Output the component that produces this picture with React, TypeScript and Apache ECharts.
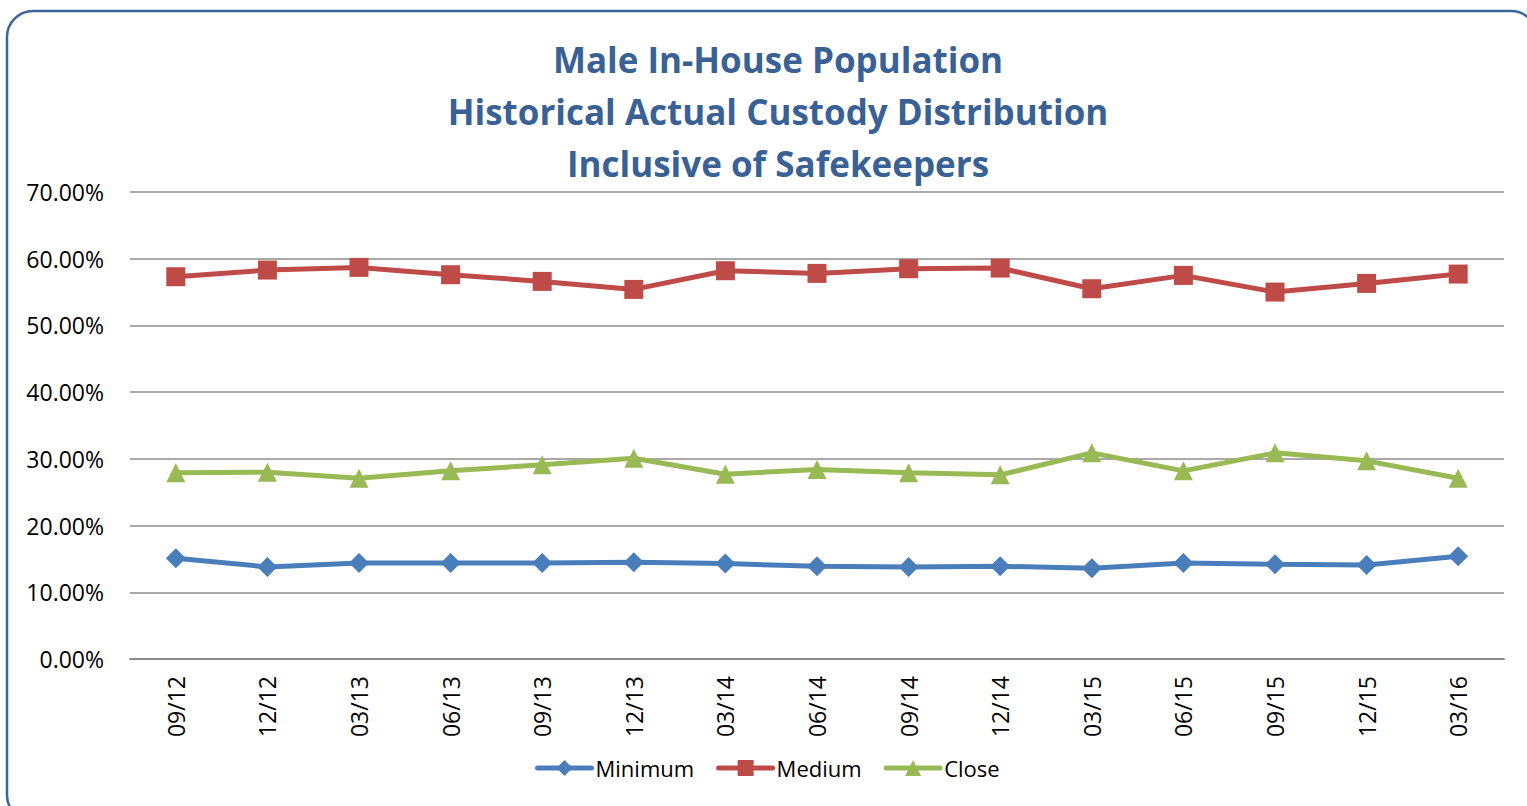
import React, { useEffect, useRef } from "react";
import * as echarts from "echarts";

const categories = ["09/12", "12/12", "03/13", "06/13", "09/13", "12/13", "03/14", "06/14", "09/14", "12/14", "03/15", "06/15", "09/15", "12/15", "03/16"];
const minimum = [15.1, 13.8, 14.4, 14.4, 14.4, 14.5, 14.3, 13.9, 13.8, 13.9, 13.6, 14.4, 14.2, 14.1, 15.4];
const medium = [57.3, 58.3, 58.7, 57.6, 56.6, 55.4, 58.2, 57.8, 58.5, 58.6, 55.5, 57.5, 55.0, 56.3, 57.7];
const close = [27.9, 28.0, 27.1, 28.2, 29.1, 30.1, 27.7, 28.4, 27.9, 27.6, 30.9, 28.2, 30.9, 29.7, 27.1];

const FONT = "'Open Sans', sans-serif";

export default function App() {
  const ref = useRef<HTMLDivElement>(null);
  useEffect(() => {
    document.body.style.margin = "0";
    const chart = echarts.init(ref.current!, null, { renderer: "svg" });
    const mk = (name: string, data: number[], color: string, symbol: string, size: number) => ({
      name,
      type: "line",
      data,
      symbol,
      symbolSize: size,
      lineStyle: { color, width: 5 },
      itemStyle: { color },
      emphasis: { disabled: true },
    });
    chart.setOption({
      animation: false,
      title: {
        text: "Male In-House Population\nHistorical Actual Custody Distribution\nInclusive of Safekeepers",
        left: 773,
        textAlign: "center",
        top: 28,
        textStyle: { fontFamily: FONT, fontSize: 35, fontWeight: "bold", color: "#3a6195", lineHeight: 52 },
      },
      graphic: [
        {
          type: "rect",
          shape: { x: 7, y: 11, width: 1530, height: 810, r: 26 },
          style: { fill: "none", stroke: "#3a6699", lineWidth: 2.5 },
          silent: true,
        },
      ],
      legend: {
        bottom: 22,
        left: 530,
        itemWidth: 54,
        itemHeight: 20,
        itemGap: 22,
        lineStyle: { width: 5, cap: "round" },
        textStyle: { fontFamily: FONT, fontSize: 22, color: "#000", padding: [0, 0, 0, -1] },
        data: ["Minimum", "Medium", "Close"],
      },
      grid: { left: 130, right: 23, top: 192, bottom: 147 },
      xAxis: {
        type: "category",
        data: categories,
        boundaryGap: true,
        axisLine: { show: true, lineStyle: { color: "#8c8c8c", width: 2 } },
        axisTick: { show: false },
        axisLabel: { rotate: 90, margin: 17, fontFamily: FONT, fontSize: 23, color: "#000" },
      },
      yAxis: {
        type: "value",
        min: 0,
        max: 70,
        interval: 10,
        axisLine: { show: false },
        axisTick: { show: false },
        splitLine: { lineStyle: { color: "#8c8c8c", width: 1.5 } },
        axisLabel: {
          margin: 26,
          fontFamily: FONT,
          fontSize: 23,
          color: "#000",
          formatter: (v: number) => v.toFixed(2) + "%",
        },
      },
      series: [
        mk("Minimum", minimum, "#4a7ebb", "diamond", 20),
        mk("Medium", medium, "#be4b48", "rect", 19),
        mk("Close", close, "#98b954", "triangle", 19),
      ],
    });
    return () => chart.dispose();
  }, []);
  return <div ref={ref} style={{ width: 1527, height: 806 }} />;
}
